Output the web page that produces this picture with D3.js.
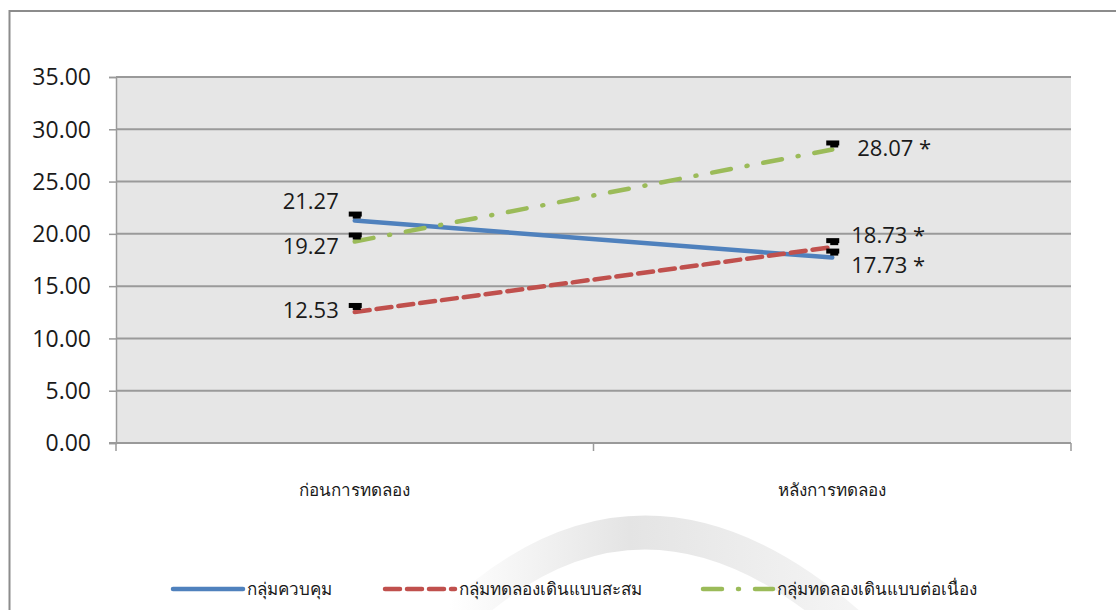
<!DOCTYPE html>
<html>
<head>
<meta charset="utf-8">
<script src="https://cdn.jsdelivr.net/npm/d3@7"></script>
<style>
  body { margin: 0; background: #fff; }
  text { font-family: "Open Sans", "Noto Sans", "DejaVu Sans", sans-serif; fill: #1a1a1a; }
  .thai { font-family: "Tahoma", "Noto Sans", "DejaVu Sans", sans-serif; }
</style>
</head>
<body>
<div id="chart"></div>
<script>
// chart data
const categories = ['ก่อนการทดลอง', 'หลังการทดลอง']
const seriesNames = ['กลุ่มควบคุม', 'กลุ่มทดลองเดินแบบสะสม', 'กลุ่มทดลองเดินแบบต่อเนื่อง']
const controlValues = [21.27, 17.73]
const cumulativeValues = [12.53, 18.73]
const continuousValues = [19.27, 28.07]
const pointLabels = [['21.27', '17.73 *'], ['12.53', '18.73 *'], ['19.27', '28.07 *']]
const yTicks = [0, 5, 10, 15, 20, 25, 30, 35]

// label nudges (dx, dy) per series, per category
const labelOffsets = [
    [[-16, -19], [19, 8]],
    [[-16, -1], [19, -12]],
    [[-16, 5], [25, -1]]
]

const width = 1116
const height = 610
const plot = { left: 116, right: 1071, top: 77, bottom: 443 }

const svg = d3.select('#chart')
    .append('svg')
    .attr('width', width)
    .attr('height', height)

// faint watermark arc behind the legend
const grad = svg.append('defs').append('linearGradient')
    .attr('id', 'wm')
    .attr('x1', '0%').attr('x2', '100%').attr('y1', '0%').attr('y2', '0%')
grad.append('stop').attr('offset', '0%').attr('stop-color', '#ffffff')
grad.append('stop').attr('offset', '45%').attr('stop-color', '#e4e4e4')
grad.append('stop').attr('offset', '100%').attr('stop-color', '#f4f4f4')

svg.append('path')
    .attr('d', 'M450,625 Q640,440 850,625')
    .attr('fill', 'none')
    .attr('stroke', 'url(#wm)')
    .attr('stroke-width', 34)

// outer chart border (runs off the right and bottom of the picture)
svg.append('rect')
    .attr('x', 9.5)
    .attr('y', 11)
    .attr('width', 1130)
    .attr('height', 640)
    .attr('fill', 'none')
    .attr('stroke', '#8c8c8c')
    .attr('stroke-width', 2)

const xScale = d3.scaleBand()
    .domain(categories)
    .range([plot.left, plot.right])
    .padding(0)

const yScale = d3.scaleLinear()
    .domain([0, 35])
    .range([plot.bottom, plot.top])

// plot area background
svg.append('rect')
    .attr('x', plot.left)
    .attr('y', plot.top)
    .attr('width', plot.right - plot.left)
    .attr('height', plot.bottom - plot.top)
    .attr('fill', '#e6e6e6')

// y axis with gridlines
const yAxis = svg.append('g')
    .attr('transform', `translate(${plot.left}, 0)`)
    .call(d3.axisLeft(yScale)
        .tickValues(yTicks)
        .tickSize(7)
        .tickPadding(18)
        .tickFormat(d3.format('.2f')))

yAxis.select('.domain').attr('stroke', '#9a9a9a').attr('stroke-width', 1.5)
yAxis.selectAll('.tick line').attr('stroke', '#9a9a9a').attr('stroke-width', 1.5)
yAxis.selectAll('.tick text')
    .attr('font-size', '23px')
    .attr('fill', '#1a1a1a')
    .attr('dy', '0.34em')

svg.append('g')
    .selectAll('line')
    .data(yTicks.filter(d => d > 0))
    .enter()
    .append('line')
    .attr('x1', plot.left)
    .attr('x2', plot.right)
    .attr('y1', d => yScale(d))
    .attr('y2', d => yScale(d))
    .attr('stroke', '#9a9a9a')
    .attr('stroke-width', 2)

// x axis: baseline, category boundary ticks and labels
svg.append('line')
    .attr('x1', plot.left - 7)
    .attr('x2', plot.right)
    .attr('y1', plot.bottom)
    .attr('y2', plot.bottom)
    .attr('stroke', '#9a9a9a')
    .attr('stroke-width', 2)

const boundaries = categories.map(c => xScale(c)).concat([xScale.range()[1]])
svg.append('g')
    .selectAll('line')
    .data(boundaries)
    .enter()
    .append('line')
    .attr('x1', d => d)
    .attr('x2', d => d)
    .attr('y1', plot.bottom)
    .attr('y2', plot.bottom + 8)
    .attr('stroke', '#9a9a9a')
    .attr('stroke-width', 1.5)

svg.append('g')
    .selectAll('text')
    .data(categories)
    .enter()
    .append('text')
    .attr('class', 'thai')
    .attr('x', d => xScale(d) + xScale.bandwidth() / 2)
    .attr('y', 496)
    .attr('text-anchor', 'middle')
    .attr('font-size', '17px')
    .text(d => d)

// series
const colors = ['#4f81bd', '#c0504d', '#9bbb59']
const dashes = [null, '15 7', '19 16 1 16']
const allSeries = [controlValues, cumulativeValues, continuousValues]
const cx = c => xScale(c) + xScale.bandwidth() / 2

const line = d3.line()
    .x((d, i) => cx(categories[i]))
    .y(d => yScale(d))

svg.append('g')
    .selectAll('path')
    .data(allSeries)
    .enter()
    .append('path')
    .attr('fill', 'none')
    .attr('stroke', (d, i) => colors[i])
    .attr('stroke-width', 4.5)
    .attr('stroke-linecap', 'round')
    .attr('stroke-dasharray', (d, i) => dashes[i])
    .attr('d', d => line(d))

// small black markers sitting just above each point
allSeries.forEach(values => {
    values.forEach((v, i) => {
        const x = cx(categories[i])
        const y = yScale(v)
        svg.append('rect')
            .attr('x', x - 6)
            .attr('y', y - 9)
            .attr('width', 13)
            .attr('height', 5)
            .attr('fill', '#000')
        svg.append('rect')
            .attr('x', x - 2)
            .attr('y', y - 5)
            .attr('width', 8)
            .attr('height', 3)
            .attr('fill', '#000')
    })
})

// data labels
allSeries.forEach((values, s) => {
    values.forEach((v, i) => {
        const off = labelOffsets[s][i]
        svg.append('text')
            .attr('x', cx(categories[i]) + off[0])
            .attr('y', yScale(v) + off[1])
            .attr('dy', '0.34em')
            .attr('text-anchor', i === 0 ? 'end' : 'start')
            .attr('font-size', '22px')
            .text(pointLabels[s][i])
    })
})

// legend
const legendX = [173, 385, 703]
const legendY = 589
const legend = svg.append('g')
    .selectAll('g')
    .data(seriesNames)
    .enter()
    .append('g')
    .attr('transform', (d, i) => `translate(${legendX[i]}, ${legendY})`)

legend.append('line')
    .attr('x1', 0)
    .attr('x2', 70)
    .attr('y1', 0)
    .attr('y2', 0)
    .attr('stroke', (d, i) => colors[i])
    .attr('stroke-width', 4.5)
    .attr('stroke-linecap', 'round')
    .attr('stroke-dasharray', (d, i) => dashes[i])

legend.append('text')
    .attr('class', 'thai')
    .attr('x', 74)
    .attr('y', 0)
    .attr('dy', '0.36em')
    .attr('font-size', '17px')
    .text(d => d)
</script>
</body>
</html>
